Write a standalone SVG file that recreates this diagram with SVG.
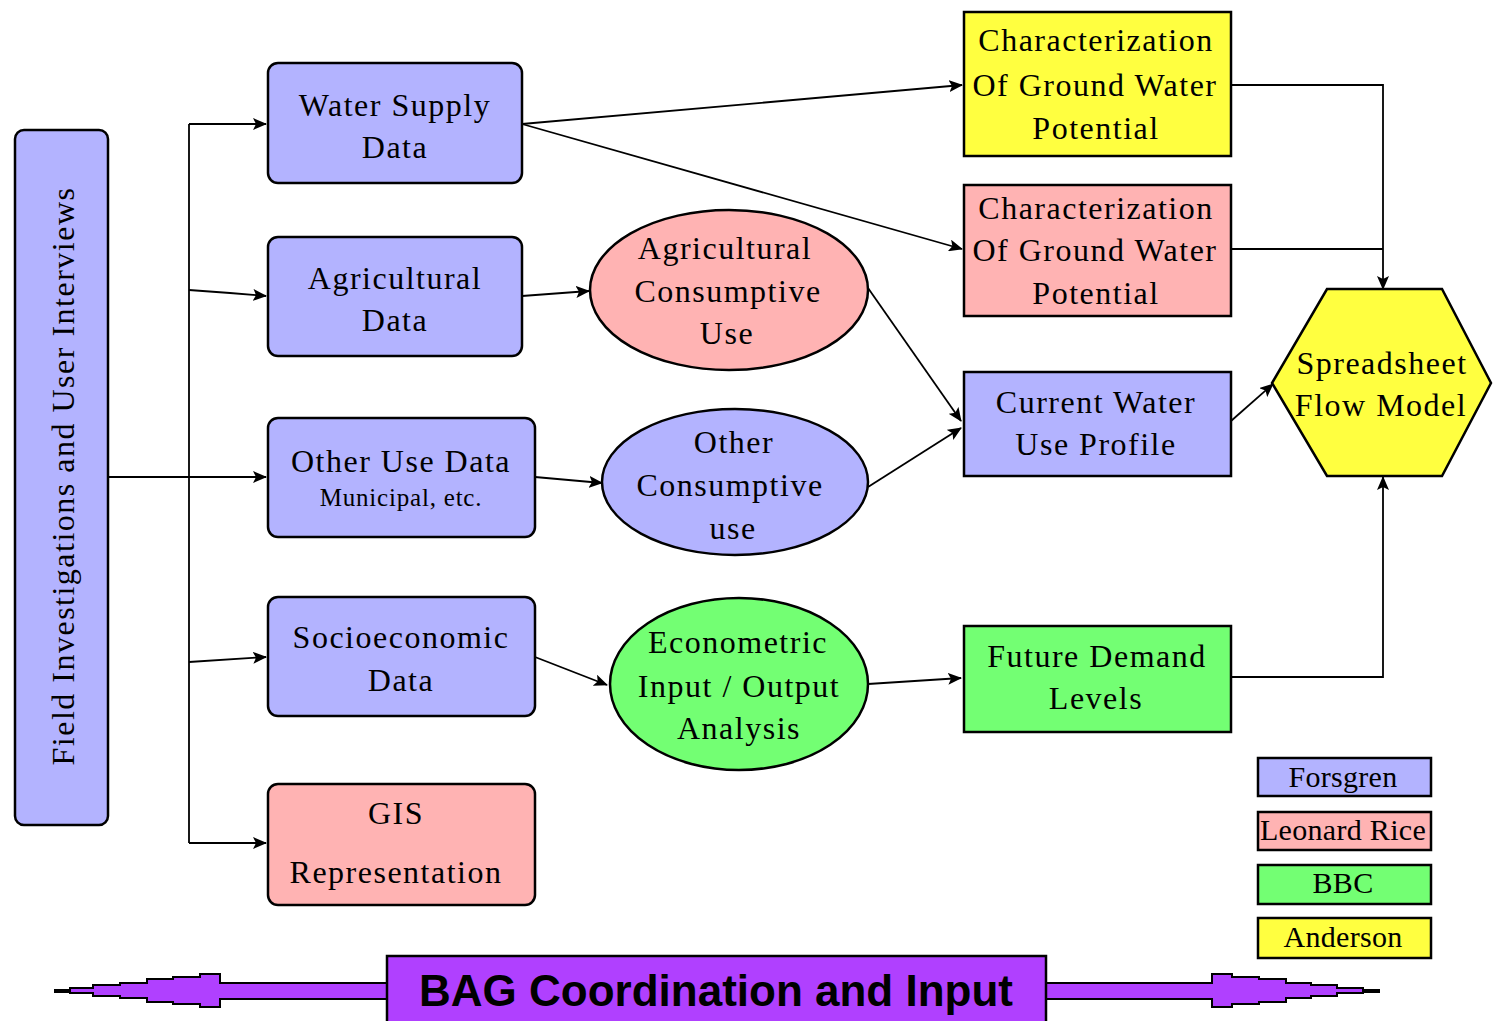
<svg xmlns="http://www.w3.org/2000/svg" width="1493" height="1021" viewBox="0 0 1493 1021">
<style>
.t{font-family:"Liberation Serif","Times New Roman",serif;font-size:32px;letter-spacing:1.5px;text-anchor:middle;fill:#000}
.s{font-size:25px;letter-spacing:0.8px}
.l{font-size:30px;letter-spacing:0.3px}
.box{stroke:#000;stroke-width:2.5}
.blue{fill:#b3b3ff}.pink{fill:#ffb3b3}.green{fill:#73ff73}.yellow{fill:#ffff40}.purple{fill:#b040ff}
.c{fill:none;stroke:#000;stroke-width:1.8;marker-end:url(#ah)}
.cn{fill:none;stroke:#000;stroke-width:1.8}
.b{font-family:"Liberation Sans",Arial,sans-serif;font-weight:bold;font-size:44px;text-anchor:middle;fill:#000}
</style>
<defs>
<marker id="ah" markerUnits="userSpaceOnUse" markerWidth="14" markerHeight="12" refX="13" refY="6" orient="auto">
<path d="M0,0 L14,6 L0,12 L3,6 Z" fill="#000"/>
</marker>
</defs>
<rect width="1493" height="1021" fill="#fff"/>

<g id="connectors">
<polyline class="cn" points="108,477 189,477"/>
<polyline class="cn" points="189,124 189,843"/>
<polyline class="c" points="189,124 266,124"/>
<polyline class="c" points="189,290 230,293 266,296"/>
<polyline class="c" points="189,477 266,477"/>
<polyline class="c" points="189,662 266,657"/>
<polyline class="c" points="189,843 266,843"/>
<polyline class="c" points="522,124 962,85"/>
<polyline class="c" points="522,124 962,249"/>
<polyline class="c" points="522,296 589,291"/>
<polyline class="c" points="535,477 602,483"/>
<polyline class="c" points="535,657 607,685"/>
<polyline class="c" points="868,288 961,421"/>
<polyline class="c" points="868,487 961,428"/>
<polyline class="c" points="868,684 961,678"/>
<polyline class="c" points="1231,85 1383,85 1383,289"/>
<polyline class="cn" points="1231,249 1383,249"/>
<polyline class="c" points="1231,421 1273,384"/>
<polyline class="c" points="1231,677 1383,677 1383,477"/>
</g>

<g id="field">
<rect class="box blue" x="15" y="130" width="93" height="695" rx="9"/>
<text class="t" transform="translate(74,476) rotate(-90)">Field Investigations and User Interviews</text>
</g>

<g id="water-supply">
<rect class="box blue" x="268" y="63" width="254" height="120" rx="10"/>
<text class="t" x="395" y="116">Water Supply</text>
<text class="t" x="395" y="158">Data</text>
</g>
<g id="agricultural-data">
<rect class="box blue" x="268" y="237" width="254" height="119" rx="10"/>
<text class="t" x="395" y="289">Agricultural</text>
<text class="t" x="395" y="331">Data</text>
</g>
<g id="other-use">
<rect class="box blue" x="268" y="418" width="267" height="119" rx="10"/>
<text class="t" x="401" y="472">Other Use Data</text>
<text class="t s" x="401" y="506">Municipal, etc.</text>
</g>
<g id="socioeconomic">
<rect class="box blue" x="268" y="597" width="267" height="119" rx="10"/>
<text class="t" x="401" y="648">Socioeconomic</text>
<text class="t" x="401" y="691">Data</text>
</g>
<g id="gis">
<rect class="box pink" x="268" y="784" width="267" height="121" rx="10"/>
<text class="t" x="396" y="824">GIS</text>
<text class="t" x="396" y="883">Representation</text>
</g>

<g id="ag-consumptive">
<ellipse class="box pink" cx="729" cy="290" rx="139" ry="80"/>
<text class="t" x="725" y="259">Agricultural</text>
<text class="t" x="728" y="302">Consumptive</text>
<text class="t" x="727" y="344">Use</text>
</g>
<g id="other-consumptive">
<ellipse class="box blue" cx="735" cy="482" rx="133" ry="73"/>
<text class="t" x="734" y="453">Other</text>
<text class="t" x="730" y="496">Consumptive</text>
<text class="t" x="733" y="539">use</text>
</g>
<g id="econometric">
<ellipse class="box green" cx="739" cy="684" rx="129" ry="86"/>
<text class="t" x="738" y="653">Econometric</text>
<text class="t" x="739" y="697">Input / Output</text>
<text class="t" x="739" y="739">Analysis</text>
</g>

<g id="char-yellow">
<rect class="box yellow" x="964" y="12" width="267" height="144"/>
<text class="t" x="1096" y="51">Characterization</text>
<text class="t" x="1095" y="96">Of Ground Water</text>
<text class="t" x="1096" y="139">Potential</text>
</g>
<g id="char-pink">
<rect class="box pink" x="964" y="185" width="267" height="131"/>
<text class="t" x="1096" y="219">Characterization</text>
<text class="t" x="1095" y="261">Of Ground Water</text>
<text class="t" x="1096" y="304">Potential</text>
</g>
<g id="current-water">
<rect class="box blue" x="964" y="372" width="267" height="104"/>
<text class="t" x="1096" y="413">Current Water</text>
<text class="t" x="1096" y="455">Use Profile</text>
</g>
<g id="future-demand">
<rect class="box green" x="964" y="626" width="267" height="106"/>
<text class="t" x="1097" y="667">Future Demand</text>
<text class="t" x="1096" y="709">Levels</text>
</g>

<g id="spreadsheet">
<polygon class="box yellow" points="1327,289 1442,289 1491,383 1442,476 1327,476 1272,383"/>
<text class="t" x="1382" y="374">Spreadsheet</text>
<text class="t" x="1381" y="416">Flow Model</text>
</g>

<g id="legend">
<rect class="box blue" x="1258" y="758" width="173" height="38"/>
<text class="t l" x="1343" y="787">Forsgren</text>
<rect class="box pink" x="1258" y="812" width="173" height="38"/>
<text class="t l" x="1343" y="840">Leonard Rice</text>
<rect class="box green" x="1258" y="865" width="173" height="39"/>
<text class="t l" x="1343" y="893">BBC</text>
<rect class="box yellow" x="1258" y="918" width="173" height="40"/>
<text class="t l" x="1343" y="947">Anderson</text>
</g>

<g id="bag">
<polygon class="purple" stroke="#000" stroke-width="2" points="390,983 220,983 220,974 200,974 200,977 173,977 173,979 147,979 147,983 120,983 120,985 93,985 93,988 70,988 70,990 55,990 55,992 70,992 70,993 93,993 93,996 120,996 120,998 147,998 147,1002 173,1002 173,1004 200,1004 200,1007 220,1007 220,999 390,999"/>
<polygon class="purple" stroke="#000" stroke-width="2" points="1043,983 1212,983 1212,974 1232,974 1232,977 1259,977 1259,979 1286,979 1286,983 1311,983 1311,985 1337,985 1337,988 1363,988 1363,990 1379,990 1379,992 1363,992 1363,993 1337,993 1337,996 1311,996 1311,998 1286,998 1286,1002 1259,1002 1259,1004 1232,1004 1232,1007 1212,1007 1212,999 1043,999"/>
<rect class="box purple" x="387" y="956" width="659" height="70"/>
<text class="b" x="716" y="1006">BAG Coordination and Input</text>
</g>
</svg>
